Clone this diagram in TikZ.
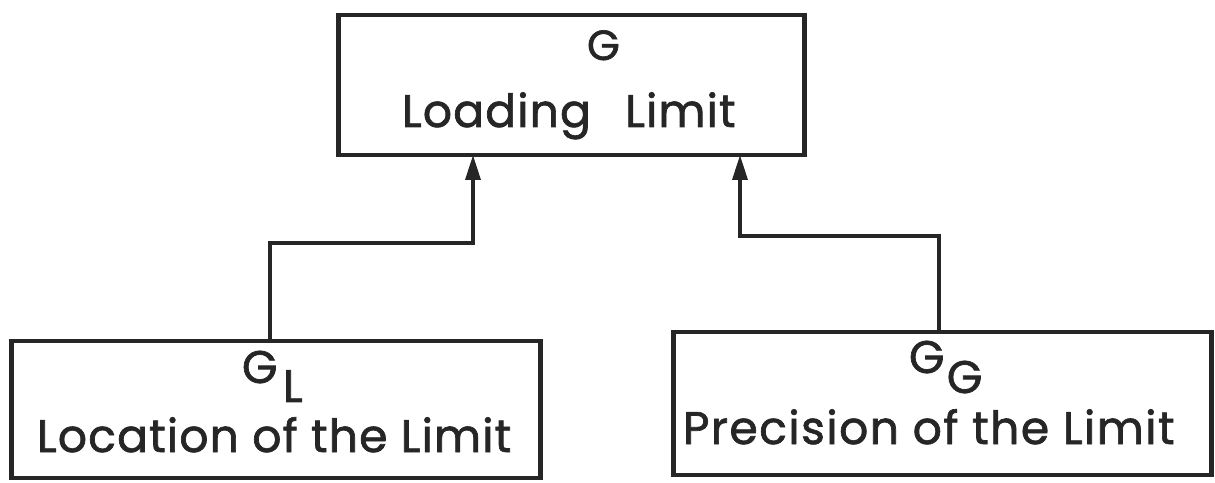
\documentclass[tikz,border=0pt]{standalone}
\usepackage{fontspec}
\setmainfont[LetterSpace=2.5,FakeBold=1.5]{Poppins}
\usetikzlibrary{arrows.meta}
\tikzset{
  box/.style={draw=black!85, line width=2.8pt, rectangle, inner sep=0pt, outer sep=0pt},
  txt/.style={inner sep=0pt, outer sep=0pt, anchor=base west, text=black!85},
  conn/.style={draw=black!85, line width=2pt},
  arr/.style={-{Triangle[length=0.5cm,width=0.3cm]}}
}
\newcommand{\lbl}{\fontsize{26}{30}\selectfont}
\begin{document}
\begin{tikzpicture}[x=0.02cm,y=-0.02cm]
\useasboundingbox (0,0) rectangle (1215,483);
% boxes
\node[box, minimum width=9.34cm, minimum height=2.8cm] (T) at (571.5,85) {};
\node[box, minimum width=10.6cm, minimum height=2.74cm] (L) at (276,409.5) {};
\node[box, minimum width=10.78cm, minimum height=2.86cm] (R) at (942.5,403.5) {};
% texts
\node[txt] (tg) at (587,60) {\fontsize{24}{28}\selectfont G};
\node[txt] (tt) at (402,127) {\lbl Loading\hspace{0.75em}Limit};
\node[txt] (lg) at (242,383) {\lbl G\hspace{0.12em}\raisebox{-0.38cm}{L}};
\node[txt] (lt) at (37,452) {\lbl Location of the Limit};
\node[txt] (rg) at (909,373) {\lbl G\hspace{0.05em}\raisebox{-0.40cm}{G}};
\node[txt] (rt) at (683,444) {\lbl\addfontfeatures{LetterSpace=3.2}Precision of the Limit};
% connectors
\coordinate (lk) at (270,243);
\coordinate (la) at (473,243);
\coordinate (rk) at (939,236);
\coordinate (ra) at (740,236);
\draw[conn, arr] (L.north -| lk) -- (lk) -- (la) -- (T.south -| la);
\draw[conn, arr] (R.north -| rk) -- (rk) -- (ra) -- (T.south -| ra);
\end{tikzpicture}
\end{document}
